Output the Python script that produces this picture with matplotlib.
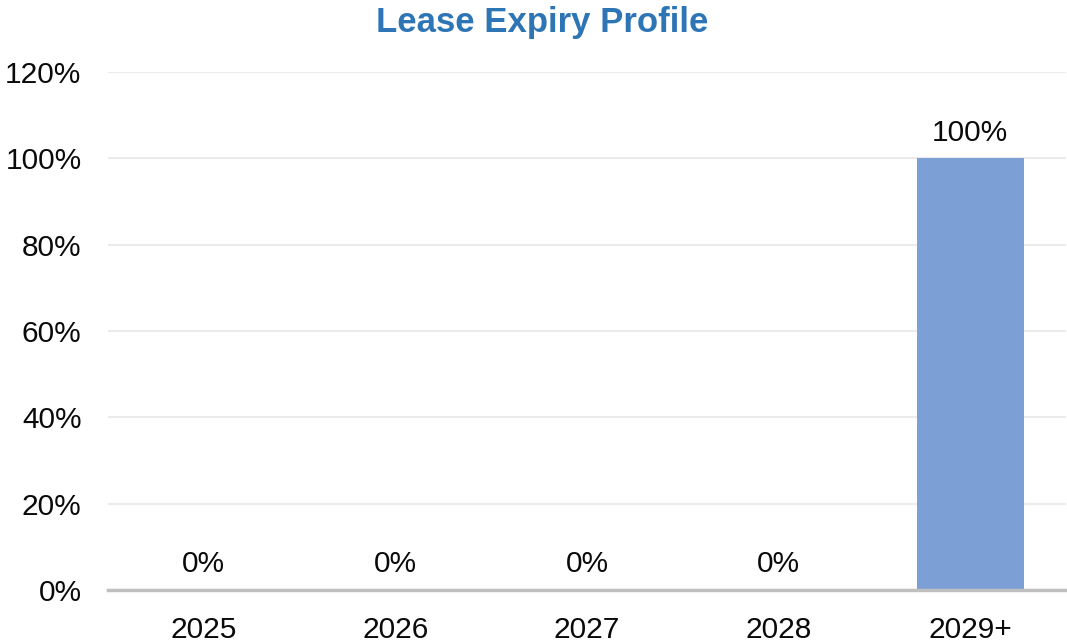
import matplotlib.pyplot as plt
from matplotlib.ticker import FuncFormatter

YEARS = ["2025", "2026", "2027", "2028", "2029+"]
SHARE = [0, 0, 0, 0, 100]
Y_TICKS = [0, 20, 40, 60, 80, 100, 120]

TITLE = "Lease Expiry Profile"
BAR_COLOR = "#7C9FD6"
TITLE_COLOR = "#2E75B6"

plt.rcParams["font.family"] = ["Liberation Sans", "DejaVu Sans"]

fig = plt.figure(figsize=(10.67, 6.44), dpi=100)
ax = fig.add_axes([0.1012, 0.0839, 0.898, 0.8043])

x = range(len(YEARS))
bars = ax.bar(x, SHARE, width=0.56, color=BAR_COLOR, zorder=3)

for rect, v in zip(bars, SHARE):
    ax.annotate(f"{v:.0f}%", (rect.get_x() + rect.get_width() / 2, rect.get_height()),
                xytext=(0, 8.5), textcoords="offset points",
                ha="center", va="bottom", fontsize=21.5, color="#0A0A0A")

ax.set_xlim(-0.5, len(YEARS) - 0.5)
ax.set_ylim(0, 120)
ax.set_yticks(Y_TICKS)
ax.yaxis.set_major_formatter(FuncFormatter(lambda v, _: f"{v:.0f}%"))
ax.set_xticks(list(x))
ax.set_xticklabels(YEARS)

ax.tick_params(axis="y", length=0, pad=19, labelsize=21.5, labelcolor="#0A0A0A")
ax.tick_params(axis="x", length=0, pad=18.5, labelsize=21.5, labelcolor="#0A0A0A")

ax.grid(axis="y", color="#EBEBEB", linewidth=1.5, zorder=0)
for side in ("top", "right", "left"):
    ax.spines[side].set_visible(False)
ax.spines["bottom"].set_color("#BFBFBF")
ax.spines["bottom"].set_linewidth(2.5)
ax.spines["bottom"].set_zorder(4)

title = fig.text(0.508, 0.965, TITLE, ha="center", va="center", fontsize=25,
                 fontweight="bold", color=TITLE_COLOR)

fig.savefig("out.png", dpi=100)
